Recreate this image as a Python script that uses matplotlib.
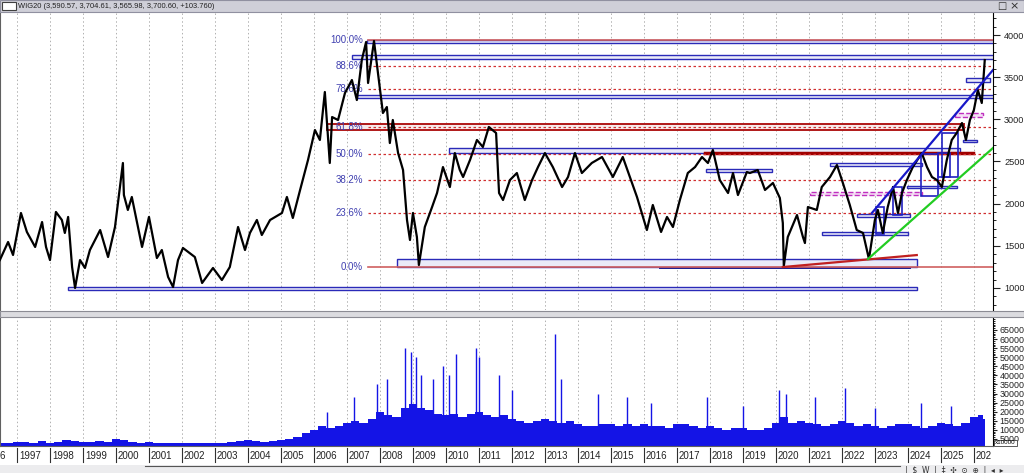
import matplotlib.pyplot as plt
from matplotlib.patches import Rectangle
from matplotlib.ticker import MultipleLocator, FixedLocator

plt.rcParams['font.family'] = ['Liberation Sans', 'DejaVu Sans']

# --- WIG20 close ---
px_year = [1996.48, 1996.73, 1996.88, 1997.12, 1997.30, 1997.55, 1997.76, 1997.88, 1998.00, 1998.18,
           1998.36, 1998.45, 1998.55, 1998.67, 1998.76, 1998.91, 1999.06, 1999.21, 1999.52, 1999.76,
           1999.97, 2000.21, 2000.24, 2000.36, 2000.48, 2000.79, 2001.00, 2001.24, 2001.39, 2001.58,
           2001.73, 2001.88, 2002.03, 2002.39, 2002.61, 2002.94, 2003.21, 2003.45, 2003.70, 2003.91,
           2004.06, 2004.27, 2004.42, 2004.67, 2005.03, 2005.18, 2005.36, 2005.58, 2005.82, 2006.03,
           2006.18, 2006.33, 2006.48, 2006.55, 2006.73, 2006.94, 2007.15, 2007.30, 2007.45, 2007.58,
           2007.64, 2007.82, 2007.94, 2008.09, 2008.21, 2008.30, 2008.39, 2008.55, 2008.70, 2008.82,
           2008.91, 2009.00, 2009.12, 2009.18, 2009.36, 2009.58, 2009.73, 2009.91, 2010.12, 2010.27,
           2010.42, 2010.52, 2010.73, 2010.94, 2011.12, 2011.30, 2011.52, 2011.61, 2011.73, 2011.94,
           2012.15, 2012.39, 2012.61, 2012.79, 2013.00, 2013.24, 2013.52, 2013.70, 2013.91, 2014.12,
           2014.42, 2014.73, 2015.06, 2015.36, 2015.64, 2015.79, 2015.97, 2016.09, 2016.27, 2016.52,
           2016.70, 2016.88, 2017.09, 2017.33, 2017.55, 2017.76, 2017.94, 2018.09, 2018.30, 2018.55,
           2018.70, 2018.85, 2019.12, 2019.21, 2019.45, 2019.67, 2019.91, 2020.12, 2020.21, 2020.24,
           2020.36, 2020.64, 2020.82, 2020.88, 2020.97, 2021.24, 2021.39, 2021.64, 2021.85, 2022.03,
           2022.24, 2022.45, 2022.64, 2022.82, 2023.00, 2023.09, 2023.24, 2023.39, 2023.55, 2023.70,
           2023.82, 2023.97, 2024.15, 2024.42, 2024.58, 2024.73, 2024.88, 2025.03, 2025.18, 2025.33,
           2025.48, 2025.64, 2025.76, 2025.88, 2026.00, 2026.12, 2026.24, 2026.33]
px_close = [1331, 1545, 1391, 1889, 1664, 1486, 1782, 1486, 1331, 1901,
            1806, 1652, 1842, 1248, 1000, 1331, 1237, 1450, 1687, 1367,
            1723, 2482, 2102, 1925, 2079, 1486, 1842, 1355, 1450, 1130,
            1011, 1331, 1474, 1367, 1059, 1237, 1094, 1248, 1723, 1450,
            1652, 1806, 1628, 1806, 1889, 2079, 1830, 2162, 2518, 2873,
            2755, 3324, 2482, 3027, 2992, 3312, 3466, 3229, 3703, 3917,
            3431, 3929, 3549, 3075, 3146, 2719, 2992, 2600, 2399, 1806,
            1569, 1889, 1604, 1272, 1723, 1960, 2126, 2434, 2197, 2600,
            2399, 2316, 2518, 2755, 2672, 2909, 2838, 2126, 2043, 2280,
            2363, 2043, 2280, 2434, 2600, 2434, 2197, 2316, 2600, 2363,
            2482, 2553, 2316, 2553, 2245, 2079, 1842, 1687, 1984, 1664,
            1842, 1723, 2043, 2363, 2434, 2553, 2482, 2636, 2280, 2126,
            2363, 2102, 2375, 2363, 2399, 2162, 2245, 2067, 1770, 1260,
            1604, 1865, 1604, 1533, 1960, 1925, 2197, 2316, 2458, 2245,
            1984, 1687, 1652, 1343, 1806, 1925, 1652, 1960, 2197, 1889,
            2126, 2280, 2434, 2600, 2434, 2316, 2280, 2197, 2518, 2755,
            2838, 2956, 2755, 2992, 3110, 3348, 3194, 3703]

# Fibonacci retracement 2009 low -> 2007 high
fib_low, fib_high = 1248, 3941
fib_pct = [0.0, 23.6, 38.2, 50.0, 61.8, 78.6, 88.6, 100.0]
fib_start = 2007.64

# drawn zones: (start year, end year, low, high)
blue_zones = [(2007.61, 2026.6, 3905, 3941), (2007.15, 2026.6, 3715, 3763),
              (2007.30, 2026.6, 3253, 3288), (2010.09, 2025.58, 2600, 2660),
              (2017.88, 2019.88, 2375, 2411), (2021.64, 2024.42, 2446, 2482),
              (2022.45, 2024.06, 1842, 1877), (2021.39, 2024.00, 1628, 1664),
              (2008.52, 2024.27, 1248, 1343), (1998.55, 2024.27, 976, 1011),
              (2023.97, 2025.48, 2185, 2209), (2025.67, 2026.09, 2731, 2755),
              (2025.76, 2026.48, 3442, 3490)]
box_zones = [(2023.03, 2023.27, 1640, 1960), (2023.55, 2023.82, 1865, 2197),
             (2024.39, 2024.91, 2091, 2589), (2024.91, 2025.27, 2316, 2600),
             (2025.03, 2025.52, 2316, 2838)]
red_zone = (2006.39, 2025.70, 2873, 2944)
magenta_zones = [(2021.03, 2024.42, 2102, 2138), (2025.42, 2026.27, 3027, 3075)]
dark_red_line = (2017.85, 2025.97, 2600)
dark_blue_line = (2016.48, 2024.06, 1242)
# trend lines: (x0, y0, x1, y1)
red_trend = (2020.21, 1248, 2024.27, 1390)
green_trend = (2022.79, 1343, 2026.58, 2660)
blue_trend = (2022.91, 1889, 2026.58, 3585)

# --- volume (x10000), quarterly level plus single-day spikes ---
vol_year = [1996.50 + 0.25 * i for i in range(120)] + [2026.33]
vol_base = [2500, 3000, 3500, 3500, 3000, 4000, 3000, 3500, 4500, 4000,
            3500, 3500, 4000, 3500, 5000, 4500, 3500, 3000, 3500, 3000,
            2500, 3000, 3000, 3000, 2500, 2500, 2500, 3000, 3500, 4000,
            4500, 4000, 3500, 4000, 4500, 5000, 6000, 8000, 10000, 12000,
            11000, 12000, 14000, 15000, 14000, 16000, 20000, 18000, 17000, 22000,
            24000, 22000, 21000, 19000, 18000, 19000, 17000, 19000, 20000, 18000,
            17000, 18000, 16000, 15000, 14000, 15000, 16000, 15000, 14000, 15000,
            13000, 12000, 12000, 13000, 13000, 12000, 13000, 12000, 13000, 12000,
            12000, 11000, 13000, 13000, 12000, 11000, 12000, 11000, 10000, 11000,
            11000, 10000, 10000, 11000, 14000, 17000, 14000, 15000, 14000, 13000,
            12000, 13000, 15000, 14000, 12000, 13000, 12000, 11000, 12000, 13000,
            13000, 12000, 11000, 12000, 14000, 13000, 12000, 14000, 17000, 18000, 16000]
spike_year = [2006.4, 2007.2, 2007.9, 2008.2, 2008.75, 2008.95, 2009.1, 2009.25, 2009.6, 2009.9,
              2010.1, 2010.3, 2010.9, 2011.0, 2011.6, 2012.0, 2013.3, 2013.5, 2014.6, 2015.5,
              2016.2, 2017.9, 2019.0, 2020.1, 2020.3, 2021.2, 2022.1, 2023.0, 2024.4, 2025.3]
spike_vol = [20000, 28000, 35000, 38000, 55000, 53000, 50000, 40000, 38000, 45000,
             40000, 52000, 55000, 50000, 40000, 32000, 63000, 38000, 30000, 28000,
             25000, 28000, 23000, 32000, 30000, 28000, 33000, 22000, 25000, 23000]

year_ticks = list(range(1997, 2027))
vol_ticks = list(range(5000, 70000, 5000))

XMIN, XMAX = 1996.485, 2026.58
blue = '#2a2ab8'
fill = '#eaeaf8'

fig = plt.figure(figsize=(10.24, 4.73), dpi=100)
fig.patch.set_facecolor('white')

# title bar
fig.patches.append(Rectangle((0, 1 - 12 / 473), 1, 12 / 473, transform=fig.transFigure,
                             facecolor='#cfcfd8', edgecolor='#9090a0', lw=0.8))
fig.patches.append(Rectangle((2 / 1024, 1 - 10 / 473), 14 / 1024, 8 / 473, transform=fig.transFigure,
                             facecolor='white', edgecolor='#404040', lw=0.8))
fig.text(18 / 1024, 1 - 6 / 473, 'WIG20 (3,590.57, 3,704.61, 3,565.98, 3,700.60, +103.760)',
         fontsize=5.4, va='center', ha='left', color='#202020')
fig.text(1002 / 1024, 1 - 6 / 473, '□', fontsize=7, va='center', ha='center', color='#303030',
         family='DejaVu Sans')
fig.text(1014 / 1024, 1 - 6 / 473, '×', fontsize=8, va='center', ha='center', color='#303030',
         family='DejaVu Sans')

# splitter between panels
fig.patches.append(Rectangle((0, 1 - 317 / 473), 1, 6 / 473, transform=fig.transFigure,
                             facecolor='#dcdce0', edgecolor='#8c8c94', lw=0.8))
# bottom scroll bar strip with toolbar
fig.patches.append(Rectangle((0, 0), 1, 8 / 473, transform=fig.transFigure,
                             facecolor='#ececee', edgecolor='none'))
fig.lines.append(plt.Line2D([145 / 1024, 900 / 1024], [7 / 473, 7 / 473], transform=fig.transFigure,
                            color='#555555', lw=0.8))
fig.text(905 / 1024, 3 / 473, '|  $  W  |  ‡  ✣  ⊙  ⊕  |  ◂  ▸', fontsize=5.5, va='center',
         ha='left', color='#303030', family='DejaVu Sans')

# ---------------- price panel ----------------
ax = fig.add_axes([0, 1 - 310 / 473, 993 / 1024, 297 / 473])
ax.set_xlim(XMIN, XMAX)
ax.set_ylim(738.5, 4261)
for yr in year_ticks:
    ax.axvline(yr, color='#b0b0b0', lw=0.7, ls=(0, (1.5, 2.5)), zorder=0)

for a, b, lo, hi in blue_zones:
    ax.add_patch(Rectangle((a, lo), b - a, hi - lo, facecolor=fill, edgecolor=blue, lw=1.0, zorder=2))
ax.add_patch(Rectangle((red_zone[0], red_zone[2]), red_zone[1] - red_zone[0], red_zone[3] - red_zone[2],
                       facecolor='#f6eaea', edgecolor='#b01818', lw=1.4, zorder=2))
for a, b, lo, hi in magenta_zones:
    ax.add_patch(Rectangle((a, lo), b - a, hi - lo, facecolor='#f4e0f4', edgecolor='#c030c0',
                           lw=1.0, ls='--', zorder=2))
for a, b, lo, hi in box_zones:
    ax.add_patch(Rectangle((a, lo), b - a, hi - lo, facecolor='none', edgecolor='#2020c0', lw=1.2, zorder=4))
ax.plot(dark_red_line[:2], [dark_red_line[2]] * 2, color='#a00000', lw=2.5, zorder=3)
ax.plot(dark_blue_line[:2], [dark_blue_line[2]] * 2, color='#1a1a90', lw=1.4, zorder=3)

# fibonacci levels
rng = fib_high - fib_low
for pct in fib_pct:
    lvl = fib_low + rng * pct / 100
    if pct in (0.0, 100.0):
        ax.plot([fib_start, XMAX], [lvl, lvl], color='#d06060', lw=1.2, zorder=3)
    else:
        ax.plot([fib_start, XMAX], [lvl, lvl], color='#d03030', lw=0.9, ls=(0, (2, 2)), zorder=3)
    ax.text(fib_start - 0.15, lvl, f'{pct:.1f}%', color='#4040b0', fontsize=7,
            ha='right', va='center', zorder=5)

ax.plot(px_year, px_close, color='black', lw=1.6, zorder=6)

for (x0, y0, x1, y1), c in [(red_trend, '#c02020'), (green_trend, '#22cc22'), (blue_trend, '#1818c8')]:
    ax.plot([x0, x1], [y0, y1], color=c, lw=1.6, zorder=7)

ax.yaxis.tick_right()
ax.yaxis.set_major_locator(FixedLocator([1000, 1500, 2000, 2500, 3000, 3500, 4000]))
ax.yaxis.set_minor_locator(MultipleLocator(100))
ax.tick_params(axis='y', which='major', labelsize=6.6, length=5, pad=3, colors='#222222')
ax.tick_params(axis='y', which='minor', length=2)
ax.set_xticks([])
for s in ('top', 'bottom'):
    ax.spines[s].set_visible(False)
ax.spines['left'].set_color('#606060')

# ---------------- volume panel ----------------
av = fig.add_axes([0, 1 - 446 / 473, 993 / 1024, 128 / 473], sharex=ax)
av.set_ylim(1100, 71600)
for yr in year_ticks:
    av.axvline(yr, color='#b0b0b0', lw=0.7, ls=(0, (1.5, 2.5)), zorder=0)
av.fill_between(vol_year, 0, vol_base, color='#1414e6', step='mid', lw=0, zorder=2)
av.vlines(spike_year, 0, spike_vol, color='#1414e6', lw=1.0, zorder=2)
av.yaxis.tick_right()
av.yaxis.set_major_locator(FixedLocator(vol_ticks))
av.yaxis.set_minor_locator(MultipleLocator(1000))
av.tick_params(axis='y', which='major', labelsize=6.4, length=3, pad=1.5, colors='#222222')
av.tick_params(axis='y', which='minor', length=1.5)
av.tick_params(axis='x', bottom=False, labelbottom=False)
av.spines['top'].set_visible(False)
av.spines['left'].set_color('#606060')
av.spines['bottom'].set_color('#606060')
fig.text(995 / 1024, 1 - 443 / 473, 'x10000', fontsize=4.5, va='center', ha='left', zorder=10,
         bbox=dict(boxstyle='square,pad=0.15', facecolor='white', edgecolor='#404040', lw=0.6))

# ---------------- date strip ----------------
ad = fig.add_axes([0, 1 - 464 / 473, 993 / 1024, 18 / 473], sharex=ax)
ad.set_ylim(0, 1)
ad.axis('off')
ad.text(XMIN, 0.45, '6', fontsize=7, ha='left', va='center', color='#222222')
for yr in year_ticks:
    ad.plot([yr, yr], [0.1, 0.9], color='#303030', lw=0.8)
    lab = str(yr) if yr < 2026 else '202'
    ad.text(yr + 0.06, 0.45, lab, fontsize=7, ha='left', va='center', color='#222222')

fig.savefig('out.png', dpi=100)
